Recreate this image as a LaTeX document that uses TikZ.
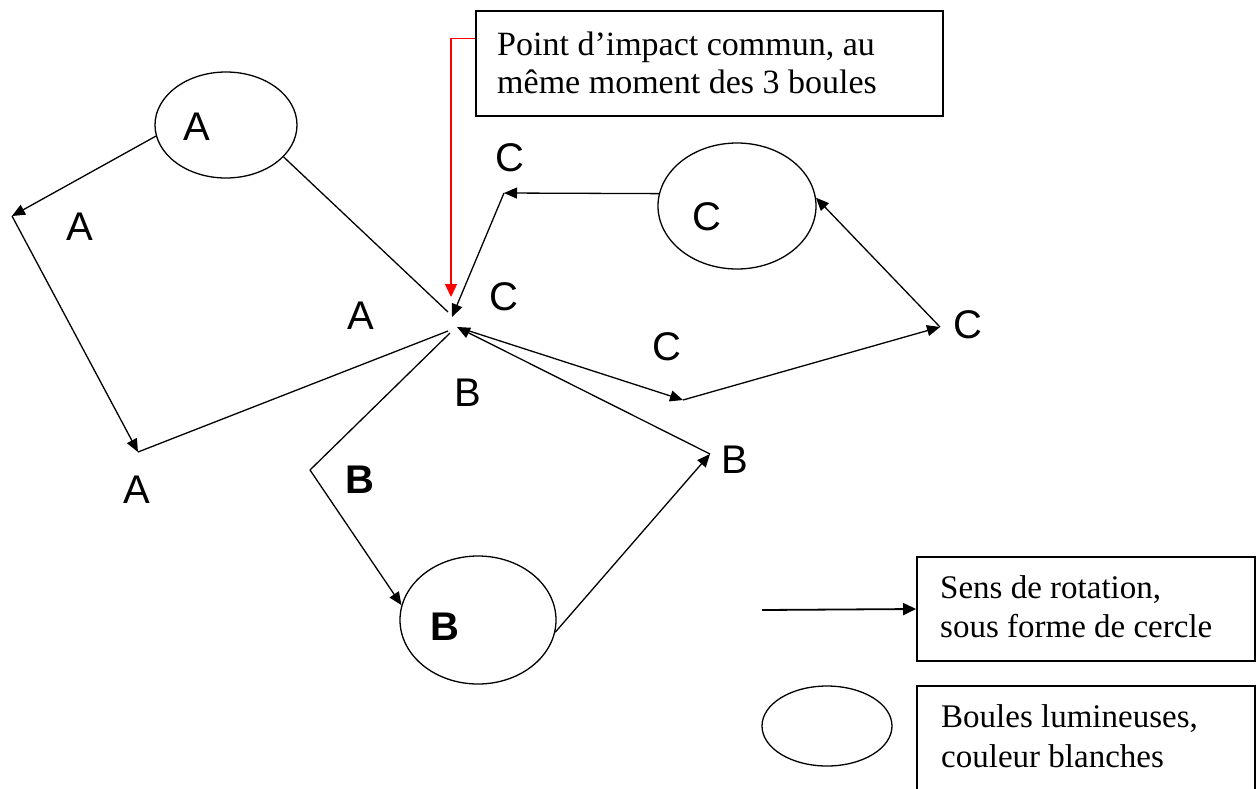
\documentclass[tikz,border=0pt]{standalone}
\usepackage{fontspec}
\setmainfont{Liberation Serif}
\newfontfamily\lblfont{Liberation Sans}
\usetikzlibrary{arrows.meta,shapes.geometric}
\begin{document}
\begin{tikzpicture}[x=1pt,y=-1pt,
  line/.style={line width=1.3pt},
  arr/.style={line width=1.3pt,-{Triangle[length=13pt,width=11pt]}},
  ball/.style={draw,ellipse,line width=1.3pt,inner sep=0pt},
  lbl/.style={font=\lblfont\fontsize{40}{40}\selectfont,inner sep=0pt},
  blbl/.style={font=\lblfont\bfseries\fontsize{40}{40}\selectfont,inner sep=0pt},
  box/.style={draw,line width=1.8pt,inner sep=0pt},
  txt/.style={font=\fontsize{34}{38}\selectfont,anchor=base west,inner sep=0pt},
  ltxt/.style={font=\fontsize{33}{38}\selectfont,anchor=base west,inner sep=0pt}]
\useasboundingbox (0,0) rectangle (1258,788);

% balls
\node[ball,minimum width=142pt,minimum height=106pt] (ellA) at (226,125) {};
\node[ball,minimum width=158pt,minimum height=126pt] (ellC) at (737,206) {};
\node[ball,minimum width=156pt,minimum height=128pt] (ellB) at (478,620) {};

% points
\coordinate (P) at (452,322);
\coordinate (A1) at (12,216);
\coordinate (A2) at (138,452);
\coordinate (B1) at (310,470);
\coordinate (B2) at (710,454);
\coordinate (C1) at (504,193);
\coordinate (C2) at (683,400);
\coordinate (C3) at (940,327);

% A path
\draw[arr] (ellA.189) -- (A1);
\draw[arr] (A1) -- (A2);
\draw[line] (A2) -- ([shift={(-4,9)}]P);
\draw[line] (ellA.331) -- ([shift={(-4,-10)}]P);

% B path
\draw[line] ([shift={(-2,11)}]P) -- (B1);
\draw[arr] (B1) -- (ellB.169);
\draw[arr] (ellB.351) -- (B2);
\draw[arr] (B2) -- ([shift={(5,5)}]P);

% C path
\draw[arr] (ellC.171) -- (C1);
\draw[arr] (C1) -- ([shift={(0,-5)}]P);
\draw[arr] ([shift={(8,6)}]P) -- (C2);
\draw[arr] (C2) -- (C3);
\draw[arr] (C3) -- (ellC.6);

% top callout
\node[box,minimum width=467pt,minimum height=105pt] (impactbox) at (709.5,63.5) {};
\node[txt] (t1) at (497,55) {Point d’impact commun, au};
\node[txt] (t2) at (497,93) {même moment des 3 boules};
\coordinate (Rtip) at (451,297);
\draw[red,line width=1.3pt,-{Triangle[length=13pt,width=12pt]}] ([yshift=25pt]impactbox.west) -| (Rtip);

% labels
\node[lbl] (la1) at (197,127) {A};
\node[lbl] (la2) at (80,227) {A};
\node[lbl] (la3) at (361,316) {A};
\node[lbl] (la4) at (137,490) {A};
\node[blbl] (lb1) at (445,627) {B};
\node[lbl] (lb2) at (468,393) {B};
\node[blbl] (lb3) at (360,480) {B};
\node[lbl] (lb4) at (735,460) {B};
\node[lbl] (lc1) at (510,158) {C};
\node[lbl] (lc2) at (707,217) {C};
\node[lbl] (lc3) at (504,297) {C};
\node[lbl] (lc4) at (667,347) {C};
\node[lbl] (lc5) at (968,325) {C};

% legend
\node[box,minimum width=338pt,minimum height=104pt] (legbox1) at (1086,609) {};
\coordinate (legS) at (762,610);
\draw[line width=1.8pt,-{Triangle[length=13pt,width=12pt]}] (legS) -- (legbox1.west);
\node[ltxt] (l1a) at (940,598) {Sens de rotation,};
\node[ltxt] (l1b) at (940,637) {sous forme de cercle};

\node[box,minimum width=338pt,minimum height=120pt] (legbox2) at (1086,746) {};
\node[ball,minimum width=130pt,minimum height=80pt] (legell) at (827,726) {};
\node[ltxt] (l2a) at (941,727) {Boules lumineuses,};
\node[ltxt] (l2b) at (941,767) {couleur blanches};
\end{tikzpicture}
\end{document}
